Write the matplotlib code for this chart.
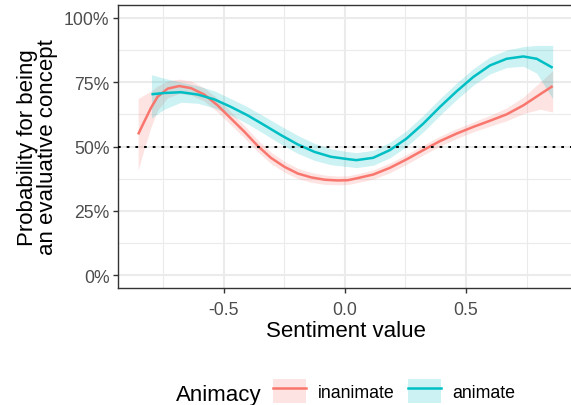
import matplotlib
matplotlib.use("Agg")
import matplotlib.pyplot as plt
from matplotlib.lines import Line2D
from matplotlib.patches import Patch
from matplotlib.ticker import FixedLocator, PercentFormatter

plt.rcParams['font.family'] = ['Liberation Sans', 'DejaVu Sans']

# ---- data ----
inan_x = [-0.853, -0.828, -0.800, -0.773, -0.731, -0.683, -0.635, -0.580, -0.525, -0.470,
          -0.414, -0.360, -0.305, -0.249, -0.194, -0.139, -0.084, -0.029, 0.012, 0.048,
          0.117, 0.186, 0.255, 0.324, 0.393, 0.461, 0.530, 0.599, 0.668, 0.737,
          0.806, 0.858]
inan_y = [0.547, 0.596, 0.650, 0.693, 0.725, 0.735, 0.727, 0.702, 0.660, 0.609,
          0.557, 0.503, 0.456, 0.421, 0.395, 0.380, 0.371, 0.368, 0.369, 0.376,
          0.391, 0.417, 0.450, 0.486, 0.521, 0.550, 0.576, 0.600, 0.625, 0.660,
          0.703, 0.735]
inan_lo = [0.408, 0.490, 0.575, 0.640, 0.690, 0.706, 0.700, 0.676, 0.634, 0.584,
           0.533, 0.480, 0.434, 0.400, 0.375, 0.361, 0.353, 0.351, 0.352, 0.359,
           0.373, 0.398, 0.431, 0.467, 0.502, 0.531, 0.557, 0.579, 0.600, 0.628,
           0.645, 0.634]
inan_hi = [0.686, 0.700, 0.715, 0.735, 0.755, 0.762, 0.754, 0.728, 0.686, 0.634,
           0.581, 0.526, 0.478, 0.442, 0.415, 0.399, 0.389, 0.385, 0.386, 0.393,
           0.409, 0.436, 0.469, 0.505, 0.540, 0.569, 0.595, 0.621, 0.650, 0.692,
           0.750, 0.795]

anim_x = [-0.798, -0.745, -0.676, -0.607, -0.538, -0.470, -0.401, -0.332, -0.263, -0.194,
          -0.125, -0.057, 0.012, 0.048, 0.117, 0.186, 0.255, 0.324, 0.393, 0.461,
          0.530, 0.599, 0.668, 0.737, 0.792, 0.858]
anim_y = [0.703, 0.708, 0.711, 0.702, 0.683, 0.654, 0.621, 0.583, 0.544, 0.508,
          0.479, 0.460, 0.451, 0.447, 0.456, 0.486, 0.531, 0.589, 0.654, 0.714,
          0.770, 0.815, 0.841, 0.850, 0.841, 0.806]
anim_lo = [0.611, 0.645, 0.672, 0.668, 0.650, 0.622, 0.588, 0.549, 0.509, 0.473,
           0.446, 0.429, 0.422, 0.418, 0.427, 0.456, 0.500, 0.557, 0.622, 0.682,
           0.738, 0.782, 0.807, 0.812, 0.785, 0.686]
anim_hi = [0.779, 0.765, 0.750, 0.736, 0.716, 0.686, 0.654, 0.617, 0.579, 0.543,
           0.512, 0.491, 0.480, 0.476, 0.485, 0.516, 0.562, 0.621, 0.686, 0.746,
           0.802, 0.848, 0.875, 0.888, 0.893, 0.893]

groups = ["inanimate", "animate"]
colors = ["#F8766D", "#00BFC4"]
y_ticks = [0, 0.25, 0.5, 0.75, 1.0]
x_ticks = [-0.5, 0.0, 0.5]
x_tick_labels = ["-0.5", "0.0", "0.5"]

W, H = 571, 406
fig = plt.figure(figsize=(W / 100, H / 100), dpi=100)
ax = fig.add_axes([118 / W, (H - 289) / H, (574 - 118) / W, (289 - 6) / H])

series = [(inan_x, inan_y, inan_lo, inan_hi), (anim_x, anim_y, anim_lo, anim_hi)]
for (xs, ys, lo, hi), c in zip(series, colors):
    ax.fill_between(xs, lo, hi, color=c, alpha=0.2, lw=0, zorder=2)
for (xs, ys, lo, hi), c in zip(series, colors):
    ax.plot(xs, ys, color=c, lw=1.8, zorder=3, solid_capstyle='butt',
            solid_joinstyle='round')

ax.axhline(0.5, color='black', lw=1.4, linestyle=(0, (1.4, 3.07)),
           dash_capstyle='butt', zorder=4)

ax.set_xlim(-0.936, 0.946)
ax.set_ylim(-0.05, 1.05)
ax.xaxis.set_major_locator(FixedLocator(x_ticks))
ax.set_xticklabels(x_tick_labels)
ax.xaxis.set_minor_locator(FixedLocator([-0.75, -0.25, 0.25, 0.75]))
ax.yaxis.set_major_locator(FixedLocator(y_ticks))
ax.yaxis.set_minor_locator(FixedLocator([0.125, 0.375, 0.625, 0.875]))
ax.yaxis.set_major_formatter(PercentFormatter(1.0, decimals=0))

ax.grid(which='major', color='#EBEBEB', lw=1.5, zorder=0)
ax.grid(which='minor', color='#EBEBEB', lw=0.8, zorder=0)
ax.set_axisbelow(True)
ax.tick_params(which='major', length=3.6, width=1.0, color='#333333',
               labelcolor='#4D4D4D', labelsize=12.7, pad=2.5)
ax.tick_params(which='minor', length=0)
ax.tick_params(axis='x', pad=5.5)
for sp in ax.spines.values():
    sp.set_color('#333333')
    sp.set_linewidth(1.0)

ax.set_xlabel("Sentiment value", fontsize=16, labelpad=2)
ax.set_ylabel("Probability for being\nan evaluative concept", fontsize=16, labelpad=4,
              linespacing=0.95)

# legend
fig.text(176 / W, 5 / H, "Animacy", fontsize=16, va='baseline', ha='left')
handles = [(Patch(facecolor=c, alpha=0.2, lw=0), Line2D([], [], color=c, lw=1.8))
           for c in colors]
fig.legend(handles, groups, ncol=2, frameon=False, fontsize=12.8,
           loc='center left', bbox_to_anchor=(273 / W, 14 / H),
           handlelength=1.86, handleheight=1.65, handletextpad=0.67,
           columnspacing=0.73, borderpad=0, borderaxespad=0, labelcolor='black')

fig.savefig("out.png", dpi=100)
